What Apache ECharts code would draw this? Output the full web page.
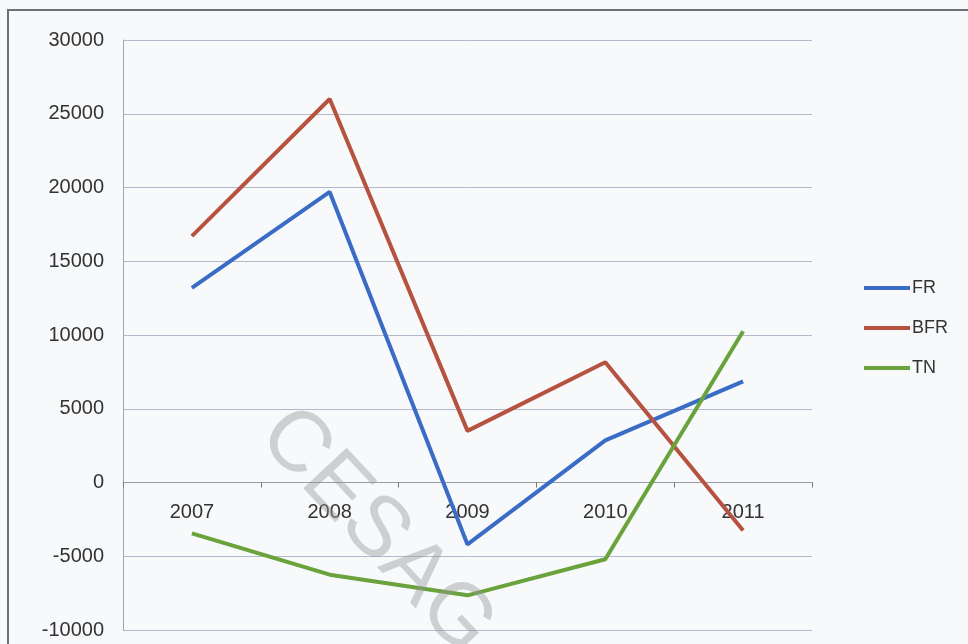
<!DOCTYPE html>
<html>
<head>
<meta charset="utf-8">
<script src="https://cdn.jsdelivr.net/npm/echarts@6/dist/echarts.min.js"></script>
<style>
html,body{margin:0;padding:0;background:#f7f9fb;}
#chart{width:968px;height:644px;}
</style>
</head>
<body>
<div id="chart"></div>
<script>
const years = ['2007', '2008', '2009', '2010', '2011'];
const seriesNames = ['FR', 'BFR', 'TN'];
const frValues = [13200, 19700, -4200, 2850, 6850];
const bfrValues = [16700, 26000, 3500, 8150, -3250];
const tnValues = [-3450, -6250, -7650, -5200, 10250];
const yTicks = { min: -10000, max: 30000, interval: 5000 };
const colors = ['#3a6cc6', '#b65340', '#6aa23c'];

const chart = echarts.init(document.getElementById('chart'));
const font = 'Liberation Sans, Arial, sans-serif';
const gridTop = 40, gridBottom = 14, H = 644;
const plotH = H - gridTop - gridBottom;
const zeroFromBottom = plotH * (0 - yTicks.min) / (yTicks.max - yTicks.min);
chart.setOption({
  backgroundColor: '#f7f9fb',
  animation: false,
  color: colors,
  textStyle: { fontFamily: font },
  grid: { left: 123, right: 156, top: gridTop, bottom: gridBottom, containLabel: false, outerBoundsMode: 'none' },
  graphic: [
    { type: 'polyline', silent: true, shape: { points: [[8, 644], [8, 10], [968, 10]] },
      style: { stroke: '#6d6f73', lineWidth: 2, fill: null } },
    { type: 'text', silent: true, x: 305, y: 392, rotation: -0.82, z: 100,
      style: { text: 'CESAG', font: '86px Liberation Sans, Arial, sans-serif',
               fill: 'rgba(150,150,150,0.42)', textVerticalAlign: 'top' } }
  ],
  legend: {
    orient: 'vertical', left: 859, top: 273,
    itemWidth: 46, itemHeight: 4, itemGap: 20, icon: 'rect',
    textStyle: { fontSize: 18, color: '#333', lineHeight: 20, padding: [0, 0, 0, -3] },
    data: seriesNames
  },
  xAxis: {
    type: 'category', data: years, boundaryGap: true, position: 'bottom',
    offset: -zeroFromBottom,
    axisLine: { onZero: false, lineStyle: { color: '#9a9ca4', width: 1 } },
    axisTick: { show: true, length: 5, lineStyle: { color: '#777' } },
    axisLabel: { fontSize: 20, color: '#333', margin: 20 },
    splitLine: { show: false }
  },
  yAxis: {
    type: 'value', min: yTicks.min, max: yTicks.max, interval: yTicks.interval,
    axisLine: { show: true, lineStyle: { color: '#a0a4b4', width: 1 } },
    axisTick: { show: false },
    axisLabel: { fontSize: 20, color: '#333', margin: 19, formatter: v => String(v) },
    splitLine: { lineStyle: { color: '#b4b8cc', width: 1 } }
  },
  series: [
    { name: seriesNames[0], type: 'line', data: frValues, symbol: 'none', lineStyle: { width: 4 } },
    { name: seriesNames[1], type: 'line', data: bfrValues, symbol: 'none', lineStyle: { width: 4 } },
    { name: seriesNames[2], type: 'line', data: tnValues, symbol: 'none', lineStyle: { width: 4 } }
  ]
});
</script>
</body>
</html>
